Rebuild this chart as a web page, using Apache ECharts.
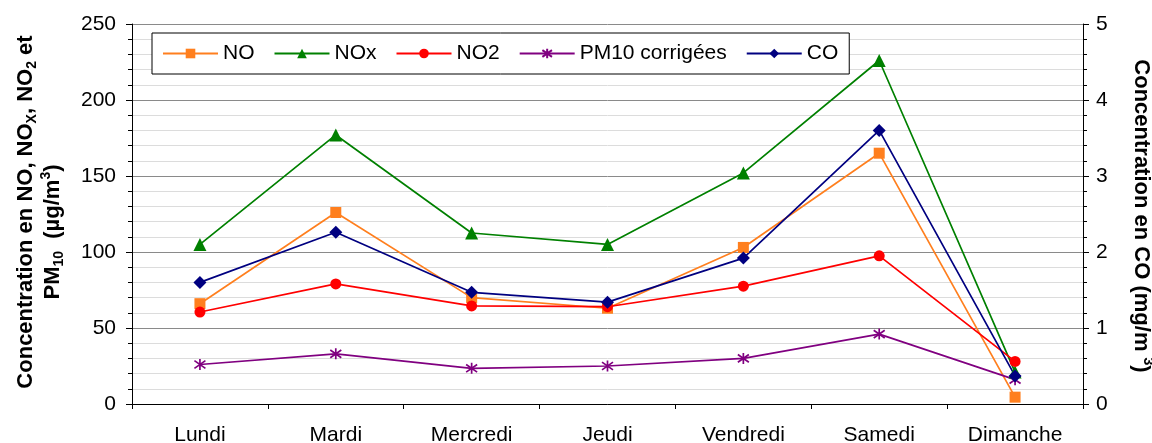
<!DOCTYPE html>
<html><head><meta charset="utf-8">
<script src="https://cdn.jsdelivr.net/npm/echarts@6/dist/echarts.min.js"></script>
<style>html,body{margin:0;padding:0;background:#fff}#c{width:1152px;height:443px}</style>
</head><body><div id="c"></div>
<script>
const categories = ['Lundi','Mardi','Mercredi','Jeudi','Vendredi','Samedi','Dimanche'];
const seriesNames = ['NO','NOx','NO2','PM10 corrigées','CO'];
const noValues = [66, 126, 70, 63, 103, 165, 4.5];
const noxValues = [105, 177, 112.5, 105, 152, 226, 21];
const no2Values = [60.5, 79, 64.5, 64, 77.5, 97.5, 28];
const pm10Values = [26, 33, 23.5, 25, 30, 46, 16];
const coValues = [1.6, 2.26, 1.47, 1.34, 1.92, 3.6, 0.37];
const leftTicks = {min: 0, max: 250, interval: 50};
const rightTicks = {min: 0, max: 5, interval: 1};

const FONT = 'Liberation Sans, Arial, sans-serif';
const chart = echarts.init(document.getElementById('c'));
const mk = (name, data, color, symbol, size, yIdx, extra) => Object.assign({
  name, type: 'line', data, yAxisIndex: yIdx,
  symbol, symbolSize: size,
  lineStyle: {color, width: 1.7},
  itemStyle: {color},
  emphasis: {disabled: true}, animation: false
}, extra || {});

const star = 'path://M5,0 L5,10 M0,1.5 L10,8.5 M10,1.5 L0,8.5';

const subStyle = {fontSize: 14, fontWeight: 'bold', fontFamily: FONT, lineHeight: 16, verticalAlign: 'bottom'};
const supStyle = {fontSize: 14, fontWeight: 'bold', fontFamily: FONT, lineHeight: 16, verticalAlign: 'top'};
const titleText = (txt, x, y, rot) => ({
  type: 'text', x, y, rotation: rot, silent: true,
  style: {
    x: 0, y: 0, align: 'center', verticalAlign: 'middle',
    text: txt, font: 'bold 22px ' + FONT, fill: '#000', lineHeight: 27,
    rich: {s: subStyle, p: supStyle}
  }
});

chart.setOption({
  animation: false,
  grid: {left: 132, right: 69, top: 24, bottom: 39, containLabel: false, outerBoundsMode: 'none'},
  legend: {
    left: 152, top: 33,
    padding: [10, 11, 10, 10],
    itemGap: 19, itemWidth: 55, itemHeight: 12,
    backgroundColor: '#fff', borderColor: '#000', borderWidth: 1,
    textStyle: {fontFamily: FONT, fontSize: 21, color: '#000', padding: [0,0,0,0]},
    data: seriesNames
  },
  xAxis: {
    type: 'category', data: categories, boundaryGap: true,
    axisLine: {lineStyle: {color: '#000', width: 1}},
    axisTick: {show: true, length: 5, lineStyle: {color: '#000'}},
    axisLabel: {fontFamily: FONT, fontSize: 21, color: '#000', margin: 21}
  },
  yAxis: [{
    type: 'value', min: leftTicks.min, max: leftTicks.max, interval: leftTicks.interval,
    axisLine: {show: true, lineStyle: {color: '#000'}},
    axisTick: {show: true, length: 6, lineStyle: {color: '#000'}},
    minorTick: {show: true, splitNumber: 5, length: 4, lineStyle: {color: '#000'}},
    splitLine: {show: true, lineStyle: {color: '#8a8a8a', width: 1}},
    minorSplitLine: {show: true, lineStyle: {color: '#dcdcdc', width: 1}},
    axisLabel: {fontFamily: FONT, fontSize: 21, color: '#000', margin: 16}
  }, {
    type: 'value', min: rightTicks.min, max: rightTicks.max, interval: rightTicks.interval,
    position: 'right',
    axisLine: {show: true, lineStyle: {color: '#000'}},
    axisTick: {show: true, length: 6, lineStyle: {color: '#000'}},
    minorTick: {show: true, splitNumber: 5, length: 4, lineStyle: {color: '#000'}},
    splitLine: {show: false},
    axisLabel: {fontFamily: FONT, fontSize: 21, color: '#000', margin: 13}
  }],
  graphic: [
    titleText('Concentration en NO, NO{s|X}, NO{s|2} et', 26, 212, Math.PI/2),
    titleText('PM{s|10}  (µg/m{p|3})', 53, 232, Math.PI/2),
    titleText('Concentration en CO (mg/m {p|3})', 1141, 216, -Math.PI/2)
  ],
  series: [
    mk('NO', noValues, '#FF7F1E', 'rect', 11, 0),
    mk('NOx', noxValues, '#008000', 'triangle', 13, 0),
    mk('NO2', no2Values, '#FF0000', 'circle', 11, 0),
    mk('PM10 corrigées', pm10Values, '#800080', star, 11, 0,
       {itemStyle: {color: 'none', borderColor: '#800080', borderWidth: 1.7}}),
    mk('CO', coValues, '#000080', 'diamond', 13, 1)
  ]
});
</script></body></html>
